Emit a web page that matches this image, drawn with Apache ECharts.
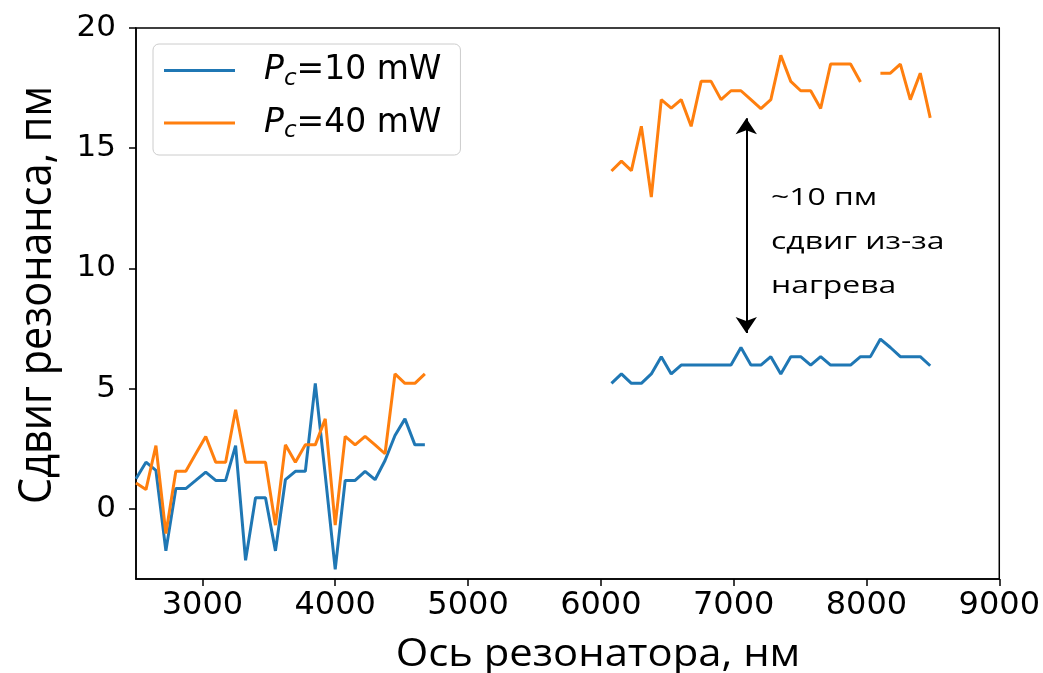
<!DOCTYPE html>
<html>
<head>
<meta charset="utf-8">
<script src="https://cdn.jsdelivr.net/npm/echarts@6/dist/echarts.min.js"></script>
<style>
html,body{margin:0;padding:0;background:#fff;}
#chart{width:1043px;height:673px;}
</style>
</head>
<body>
<div id="chart"></div>
<script>
// ---- data ----
var xLeft = [2500, 2575, 2650, 2725, 2800, 2875, 2950, 3025, 3100, 3175, 3250, 3325, 3400, 3475, 3550,
             3625, 3700, 3775, 3850, 3925, 4000, 4075, 4150, 4225, 4300, 4375, 4450, 4525, 4600, 4675];
var blueLeft = [1.25, 1.94, 1.6, -1.75, 0.84, 0.84, 1.18, 1.53, 1.18, 1.18, 2.63, -2.14, 0.46, 0.46, -1.75,
                1.21, 1.56, 1.56, 5.22, 1.4, -2.52, 1.18, 1.18, 1.56, 1.21, 2.01, 3.05, 3.74, 2.66, 2.66];
var orangeLeft = [1.07, 0.8, 2.63, -1.03, 1.56, 1.56, 2.29, 3.01, 1.94, 1.94, 4.12, 1.94, 1.94, 1.94, -0.68,
                  2.66, 1.94, 2.66, 2.66, 3.74, -0.68, 3.01, 2.66, 3.01, 2.66, 2.29, 5.61, 5.22, 5.22, 5.61];
var xRight = [6080, 6155, 6230, 6305, 6380, 6455, 6530, 6605, 6680, 6755, 6830, 6905, 6980, 7055, 7130, 7205,
              7280, 7355, 7430, 7505, 7580, 7655, 7730, 7805, 7880, 7955, 8030, 8105, 8180, 8255, 8330, 8405, 8480];
var blueRight = [5.22, 5.61, 5.22, 5.22, 5.61, 6.33, 5.61, 5.98, 5.98, 5.98, 5.98, 5.98, 5.98, 6.71, 5.98, 5.98,
                 6.33, 5.61, 6.33, 6.33, 5.98, 6.33, 5.98, 5.98, 5.98, 6.33, 6.33, 7.06, 6.71, 6.33, 6.33, 6.33, 5.95];
var orangeRight = [14.05, 14.46, 14.07, 15.91, 12.97, 17.02, 16.67, 17.02, 15.91, 17.78, 17.78, 17.02, 17.39, 17.39, 17.02, 16.65,
                   17.02, 18.86, 17.78, 17.39, 17.39, 16.65, 18.5, 18.5, 18.5, 17.75, null, 18.12, 18.12, 18.5, 17.02, 18.12, 16.26];
var gapX = 5400;
var seriesNames = ['P_c=10 mW', 'P_c=40 mW'];
var xTicks = [3000, 4000, 5000, 6000, 7000, 8000, 9000];
var yTicks = [0, 5, 10, 15, 20];
var arrowX = 7095, arrowTop = 16.25, arrowBottom = 7.31;
var annotationText = '~10 пм\nсдвиг из-за\nнагрева';
var xTitle = 'Ось резонатора, нм';
var yTitle = 'Сдвиг резонанса, пм';

function pairs(xl, yl, xr, yr) {
  var out = [];
  for (var i = 0; i < xl.length; i++) out.push([xl[i], yl[i]]);
  out.push([gapX, null]);
  for (var j = 0; j < xr.length; j++) out.push([xr[j], yr[j]]);
  return out;
}

var chart = echarts.init(document.getElementById('chart'), null, {renderer: 'canvas'});
var tickFont = 'DejaVu Sans';
var plain = function (v) { return String(v); };
var option = {
  animation: false,
  backgroundColor: '#ffffff',
  grid: {left: 136, right: 43, top: 28, bottom: 94, show: true, borderColor: '#000', borderWidth: 1.5, backgroundColor: 'transparent'},
  xAxis: {
    type: 'value', min: 2500, max: 9000,
    axisLine: {show: true, onZero: false, lineStyle: {color: '#000', width: 1.5}},
    axisTick: {show: true, inside: false, length: 7, lineStyle: {color: '#000', width: 1.5}, customValues: xTicks},
    axisLabel: {show: true, customValues: xTicks, formatter: plain, color: '#000', fontFamily: tickFont, fontSize: 32, margin: 11},
    splitLine: {show: false}
  },
  yAxis: {
    type: 'value', min: -2.92, max: 20,
    axisLine: {show: true, onZero: false, lineStyle: {color: '#000', width: 1.5}},
    axisTick: {show: true, inside: false, length: 7, lineStyle: {color: '#000', width: 1.5}, customValues: yTicks},
    axisLabel: {show: true, customValues: yTicks, formatter: plain, color: '#000', fontFamily: tickFont, fontSize: 31, margin: 20},
    splitLine: {show: false}
  },
  legend: {
    left: 153, top: 44, orient: 'vertical',
    padding: [10, 19, 12, 11],
    itemGap: 16,
    itemWidth: 71, itemHeight: 3, icon: 'rect',
    backgroundColor: 'rgba(255,255,255,0.8)',
    borderColor: '#cccccc', borderWidth: 1, borderRadius: 6,
    data: seriesNames,
    formatter: function (name) {
      var rest = name.split('=')[1];
      return '{p|P}{s|c}{t|=' + rest + '}';
    },
    textStyle: {
      color: '#000',
      rich: {
        p: {fontFamily: tickFont, fontStyle: 'italic', fontSize: 33, lineHeight: 40, padding: [0, 0, 0, 24], color: '#000'},
        s: {fontFamily: tickFont, fontStyle: 'italic', fontSize: 23, lineHeight: 30, verticalAlign: 'bottom', color: '#000'},
        t: {fontFamily: tickFont, fontSize: 33, lineHeight: 40, color: '#000'}
      }
    }
  },
  series: [
    {
      name: seriesNames[0], type: 'line', symbol: 'none', showSymbol: false, connectNulls: false,
      lineStyle: {color: '#1f77b4', width: 3}, itemStyle: {color: '#1f77b4'},
      data: pairs(xLeft, blueLeft, xRight, blueRight),
      markLine: {
        silent: true, animation: false,
        symbol: ['arrow', 'arrow'], symbolSize: [16, 16],
        lineStyle: {color: '#000', width: 2, type: 'solid'},
        label: {show: false},
        data: [[{coord: [arrowX, arrowTop]}, {coord: [arrowX, arrowBottom]}]]
      }
    },
    {
      name: seriesNames[1], type: 'line', symbol: 'none', showSymbol: false, connectNulls: false,
      lineStyle: {color: '#ff7f0e', width: 3}, itemStyle: {color: '#ff7f0e'},
      data: pairs(xLeft, orangeLeft, xRight, orangeRight)
    }
  ],
  graphic: [
    {type: 'text', x: 771, y: 176, scaleX: 1.33,
     style: {text: annotationText, fontFamily: 'Open Sans', fontSize: 24, lineHeight: 44, fill: '#000', align: 'left', verticalAlign: 'top'}},
    {type: 'text', x: 598, y: 655, scaleX: 1.1,
     style: {text: xTitle, fontFamily: 'Open Sans', fontSize: 38, fill: '#000', align: 'center', verticalAlign: 'middle'}},
    {type: 'text', x: 38, y: 295, rotation: Math.PI / 2, scaleX: 0.9,
     style: {text: yTitle, fontFamily: 'Open Sans', fontSize: 46, fill: '#000', align: 'center', verticalAlign: 'middle'}}
  ]
};
chart.setOption(option);
</script>
</body>
</html>
